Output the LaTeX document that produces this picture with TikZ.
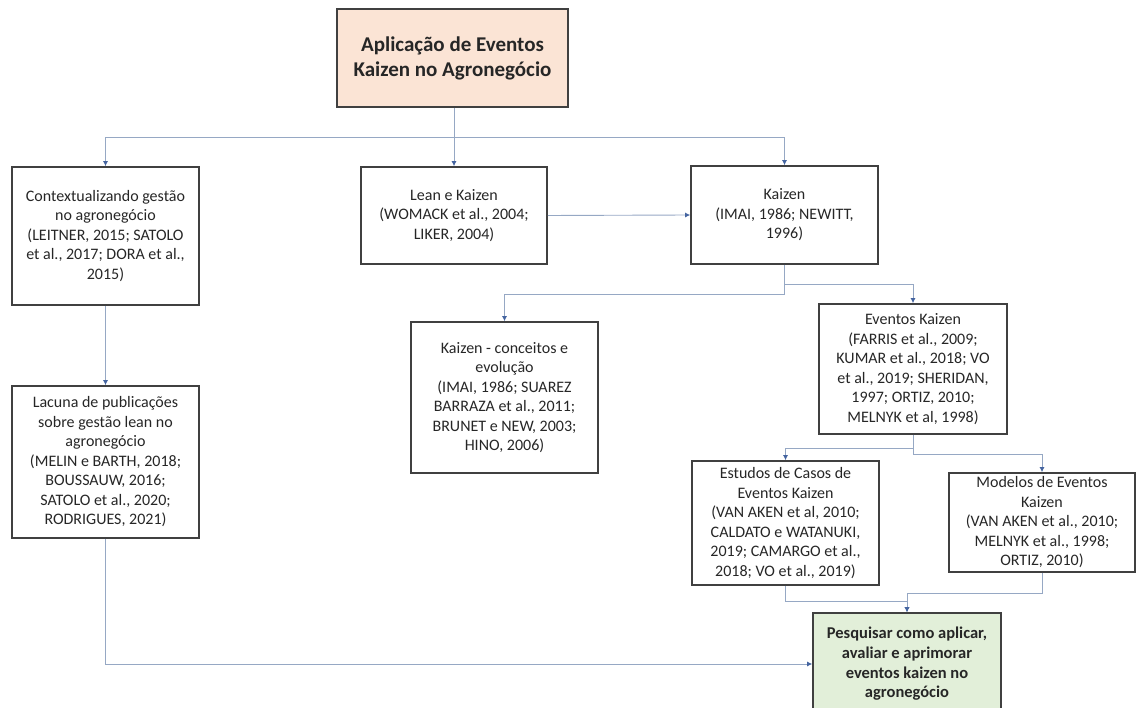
\documentclass[tikz,border=0pt]{standalone}
\usepackage{fontspec}
\setmainfont{Carlito}
\usetikzlibrary{arrows.meta}
\definecolor{boxline}{RGB}{64,64,64}
\definecolor{linkline}{RGB}{150,168,196}
\definecolor{tipblue}{RGB}{68,100,160}
\definecolor{peach}{RGB}{251,228,213}
\definecolor{palegreen}{RGB}{226,239,217}

\begin{document}
\begin{tikzpicture}[x=1pt,y=-1pt,
  box/.style={draw=boxline, line width=1.6pt, align=center, inner sep=0pt,
    font=\fontsize{16}{19.5}\selectfont, text=black!85},
  link/.style={draw=linkline, line width=0.9pt,
    -{Latex[length=5pt,width=5pt,color=tipblue]}}]
  \useasboundingbox (0,0) rectangle (1136,708);
  \clip (0,0) rectangle (1136,708);

  % boxes
  \node[box, fill=peach, minimum width=231pt, minimum height=98pt,
    font=\fontsize{21}{25}\selectfont\bfseries] (top) at (452.5,58)
    {Aplicação de Eventos\\Kaizen no Agronegócio};
  \node[box, minimum width=187pt, minimum height=138pt] (ctx) at (105.5,236)
    {Contextualizando gestão\\no agronegócio\\(LEITNER, 2015; SATOLO\\et al., 2017; DORA et al.,\\2015)};
  \node[box, minimum width=186pt, minimum height=97pt] (lean) at (454,215.5)
    {Lean e Kaizen\\(WOMACK et al., 2004;\\LIKER, 2004)};
  \node[box, minimum width=187pt, minimum height=98pt] (kaizen) at (784.5,215)
    {Kaizen\\(IMAI, 1986; NEWITT,\\1996)};
  \node[box, minimum width=187pt, minimum height=151pt] (conceitos) at (504.5,397.5)
    {Kaizen - conceitos e\\evolução\\(IMAI, 1986; SUAREZ\\BARRAZA et al., 2011;\\BRUNET e NEW, 2003;\\HINO, 2006)};
  \node[box, minimum width=188pt, minimum height=130pt] (eventos) at (913,369)
    {Eventos Kaizen\\(FARRIS et al., 2009;\\KUMAR et al., 2018; VO\\et al., 2019; SHERIDAN,\\1997; ORTIZ, 2010;\\MELNYK et al, 1998)};
  \node[box, minimum width=187pt, minimum height=152pt] (lacuna) at (105.5,462)
    {Lacuna de publicações\\sobre gestão lean no\\agronegócio\\(MELIN e BARTH, 2018;\\BOUSSAUW, 2016;\\SATOLO et al., 2020;\\RODRIGUES, 2021)};
  \node[box, minimum width=187pt, minimum height=124pt] (estudos) at (785.5,523)
    {Estudos de Casos de\\Eventos Kaizen\\(VAN AKEN et al, 2010;\\CALDATO e WATANUKI,\\2019; CAMARGO et al.,\\2018; VO et al., 2019)};
  \node[box, minimum width=186pt, minimum height=99pt] (modelos) at (1042,522.5)
    {Modelos de Eventos\\Kaizen\\(VAN AKEN et al., 2010;\\MELNYK et al., 1998;\\ORTIZ, 2010)};
  \node[box, fill=palegreen, minimum width=188pt, minimum height=102pt,
    font=\fontsize{16.5}{19.7}\selectfont\bfseries] (green) at (907,664)
    {Pesquisar como aplicar,\\avaliar e aprimorar\\eventos kaizen no\\agronegócio};

  % connectors
  \coordinate (bus) at (0,137);
  \coordinate (kz1) at (0,284); \coordinate (kz2) at (0,294);
  \coordinate (ev1) at (0,448); \coordinate (ev2) at (0,454);
  \coordinate (in1) at (0,601); \coordinate (in2) at (0,593);
  \draw[link] (lean.north |- top.south) -- (lean.north);
  \draw[link] (lean.north |- bus) -| (ctx.north);
  \draw[link] (lean.north |- bus) -| (kaizen.north);
  \draw[link] (lean.east) -- (kaizen.west);
  \draw[link] (kaizen.south) -- (kaizen.south |- kz1) -| (eventos.north);
  \draw[link] (kaizen.south) -- (kaizen.south |- kz2) -| (conceitos.north);
  \draw[link] (eventos.south) -- (eventos.south |- ev1) -| (estudos.north);
  \draw[link] (eventos.south) -- (eventos.south |- ev2) -| (modelos.north);
  \draw[link] (estudos.south) -- (estudos.south |- in1) -| (green.north);
  \draw[link] (modelos.south) -- (modelos.south |- in2) -| (green.north);
  \draw[link] (ctx) -- (lacuna);
  \draw[link] (lacuna.south) |- (green.west);
\end{tikzpicture}
\end{document}
